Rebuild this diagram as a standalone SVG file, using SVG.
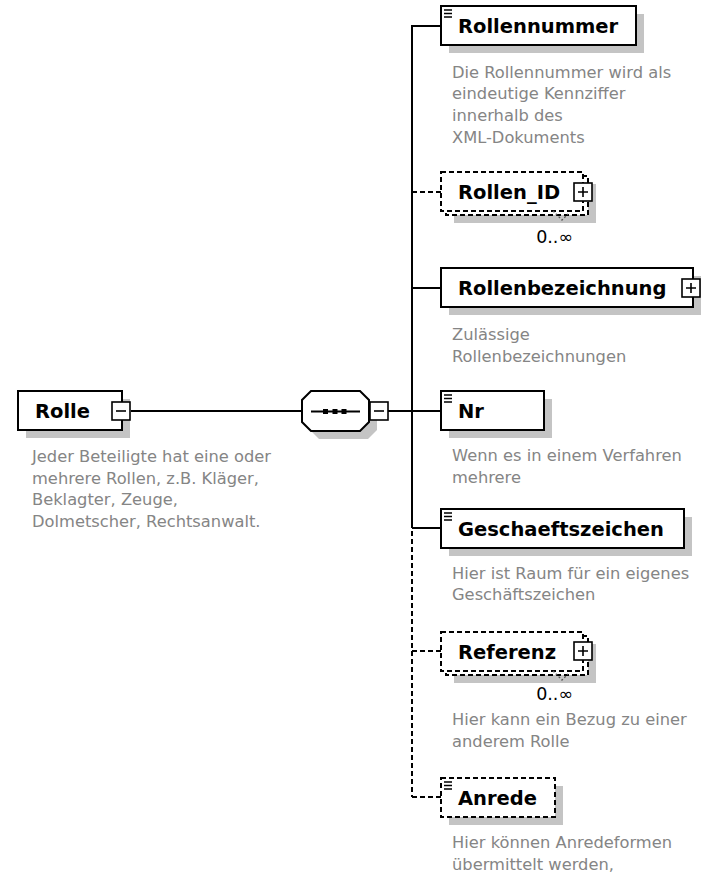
<svg xmlns="http://www.w3.org/2000/svg" width="702" height="872" viewBox="0 0 702 872">
<style>
.bg{fill:#fff}
.shadow{fill:#c4c4c4;stroke:none}
.box{fill:#fff;stroke:#000;stroke-width:2}
.dbox{fill:#fff;stroke:#000;stroke-width:2;stroke-dasharray:5 3}
.pm{fill:#fff;stroke:#000;stroke-width:1.6}
.sign{stroke:#000;stroke-width:1.6;fill:none}
.ln{stroke:#000;stroke-width:2;fill:none}
.dln{stroke:#000;stroke-width:2;fill:none;stroke-dasharray:5 3}
.doc{stroke:#000;stroke-width:1.4;fill:none}
.fold{stroke:#555;stroke-width:1.3;fill:none;stroke-dasharray:2 2}
.lbl{font-family:"DejaVu Sans","Liberation Sans",sans-serif;font-weight:bold;font-size:19.5px;fill:#000}
.desc{font-family:"DejaVu Sans","Liberation Sans",sans-serif;font-size:16.3px;fill:#858585}
.occ{font-family:"DejaVu Sans","Liberation Sans",sans-serif;font-size:17.5px;fill:#000;text-anchor:end}
</style>
<rect class="bg" x="0" y="0" width="702" height="872"/>

<g id="connectors">
<line class="ln" x1="131" y1="411" x2="302" y2="411"/>
<line class="ln" x1="388" y1="411" x2="412" y2="411"/>
<line class="ln" x1="412" y1="26" x2="412" y2="528"/>
<line class="dln" x1="412" y1="531" x2="412" y2="797"/>
<line class="ln" x1="411" y1="26" x2="441" y2="26"/>
<line class="dln" x1="412" y1="192" x2="441" y2="192"/>
<line class="ln" x1="412" y1="288" x2="441" y2="288"/>
<line class="ln" x1="412" y1="411" x2="441" y2="411"/>
<line class="ln" x1="412" y1="528" x2="441" y2="528"/>
<line class="dln" x1="412" y1="651" x2="441" y2="651"/>
<line class="dln" x1="412" y1="797" x2="441" y2="797"/>
</g>

<g id="Rolle">
<rect class="shadow" x="26" y="399" width="104" height="39"/>
<rect class="box" x="18" y="391" width="104" height="39"/>
<text class="lbl" x="35" y="418">Rolle</text>
<rect class="pm" x="112" y="402" width="18" height="18"/>
<line class="sign" x1="116" y1="411" x2="126" y2="411"/>
<text class="desc" x="32" y="462">Jeder Beteiligte hat eine oder</text>
<text class="desc" x="32" y="483.7">mehrere Rollen, z.B. Kläger,</text>
<text class="desc" x="32" y="505.4">Beklagter, Zeuge,</text>
<text class="desc" x="32" y="527.1">Dolmetscher, Rechtsanwalt.</text>
</g>

<g id="sequence">
<polygon class="shadow" points="319,399 368,399 377,408 377,430 368,439 319,439 310,430 310,408"/>
<polygon class="box" points="311,391 360,391 369,400 369,422 360,431 311,431 302,422 302,400"/>
<line class="ln" x1="311" y1="411.5" x2="360" y2="411.5"/>
<rect x="323" y="409" width="5" height="5" fill="#000"/>
<rect x="332.5" y="409" width="5" height="5" fill="#000"/>
<rect x="341.5" y="409" width="5" height="5" fill="#000"/>
<rect class="pm" x="370" y="402" width="18" height="18"/>
<line class="sign" x1="374" y1="411" x2="384" y2="411"/>
</g>

<g id="Rollennummer">
<rect class="shadow" x="449" y="14" width="195" height="39"/>
<rect class="box" x="441" y="6" width="195" height="39"/>
<path class="doc" d="M444,10h8M444,13.5h8M444,17h8"/>
<text class="lbl" x="458" y="33">Rollennummer</text>
<text class="desc" x="452" y="77.5">Die Rollennummer wird als</text>
<text class="desc" x="452" y="99.2">eindeutige Kennziffer</text>
<text class="desc" x="452" y="120.9">innerhalb des</text>
<text class="desc" x="452" y="142.6">XML-Dokuments</text>
</g>

<g id="Rollen_ID">
<rect class="shadow" x="454" y="184" width="142" height="39"/>
<rect class="dbox" x="446" y="176" width="142" height="39"/>
<rect class="dbox" x="441" y="172" width="142" height="39"/>
<text class="lbl" x="458" y="199">Rollen_ID</text>
<rect class="pm" x="574" y="183" width="18" height="18"/>
<path class="sign" d="M578,192h10M583,187v10"/>
<polyline class="fold" points="553,211 562,220 568,214"/>
<text class="occ" x="573" y="243">0..∞</text>
</g>

<g id="Rollenbezeichnung">
<rect class="shadow" x="449" y="276" width="252" height="39"/>
<rect class="box" x="441" y="268" width="252" height="39"/>
<text class="lbl" x="458" y="295">Rollenbezeichnung</text>
<rect class="pm" x="682" y="279" width="18" height="18"/>
<path class="sign" d="M686,288h10M691,283v10"/>
<text class="desc" x="452" y="340">Zulässige</text>
<text class="desc" x="452" y="361.7">Rollenbezeichnungen</text>
</g>

<g id="Nr">
<rect class="shadow" x="449" y="399" width="103" height="39"/>
<rect class="box" x="441" y="391" width="103" height="39"/>
<path class="doc" d="M444,395h8M444,398.5h8M444,402h8"/>
<text class="lbl" x="458" y="418">Nr</text>
<text class="desc" x="452" y="461">Wenn es in einem Verfahren</text>
<text class="desc" x="452" y="482.7">mehrere</text>
</g>

<g id="Geschaeftszeichen">
<rect class="shadow" x="449" y="517" width="243" height="39"/>
<rect class="box" x="441" y="509" width="243" height="39"/>
<path class="doc" d="M444,513h8M444,516.5h8M444,520h8"/>
<text class="lbl" x="458" y="536">Geschaeftszeichen</text>
<text class="desc" x="452" y="578.5">Hier ist Raum für ein eigenes</text>
<text class="desc" x="452" y="600.2">Geschäftszeichen</text>
</g>

<g id="Referenz">
<rect class="shadow" x="454" y="644" width="142" height="39"/>
<rect class="dbox" x="446" y="636" width="142" height="39"/>
<rect class="dbox" x="441" y="632" width="142" height="39"/>
<text class="lbl" x="458" y="659">Referenz</text>
<rect class="pm" x="574" y="642" width="18" height="18"/>
<path class="sign" d="M578,651h10M583,646v10"/>
<polyline class="fold" points="553,671 562,680 568,674"/>
<text class="occ" x="573" y="700">0..∞</text>
<text class="desc" x="452" y="725">Hier kann ein Bezug zu einer</text>
<text class="desc" x="452" y="746.7">anderem Rolle</text>
</g>

<g id="Anrede">
<rect class="shadow" x="449" y="786" width="114" height="39"/>
<rect class="dbox" x="441" y="778" width="114" height="39"/>
<path class="doc" d="M444,782h8M444,785.5h8M444,789h8"/>
<text class="lbl" x="458" y="805">Anrede</text>
<text class="desc" x="452" y="848">Hier können Anredeformen</text>
<text class="desc" x="452" y="869.7">übermittelt werden,</text>
</g>
</svg>
